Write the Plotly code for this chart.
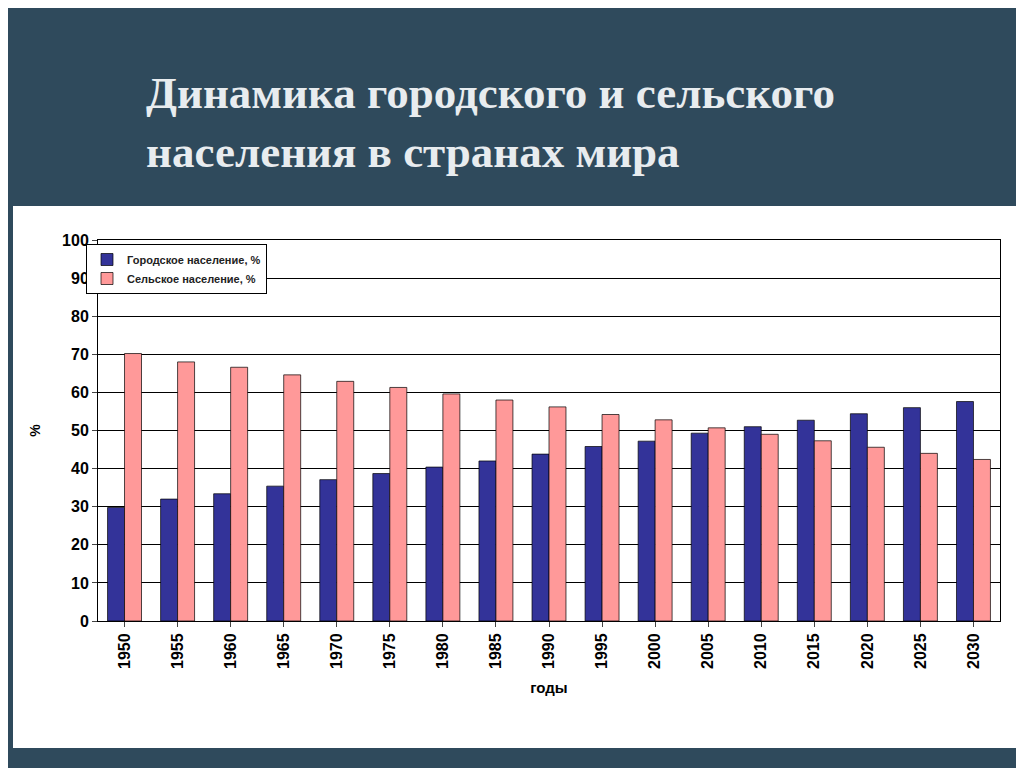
import plotly.graph_objects as go

years = ["1950","1955","1960","1965","1970","1975","1980","1985","1990","1995","2000","2005","2010","2015","2020","2025","2030"]
urban = [29.8,32.0,33.4,35.4,37.1,38.7,40.4,42.0,43.8,45.8,47.2,49.3,51.0,52.7,54.4,56.0,57.6]
rural = [70.2,68.0,66.6,64.6,62.9,61.3,59.6,58.0,56.2,54.2,52.8,50.7,49.0,47.3,45.6,44.0,42.4]

fig = go.Figure()
fig.add_bar(x=years, y=urban, name="Городское население, %", marker=dict(color="#333399", line=dict(color="#000", width=0.7)))
fig.add_bar(x=years, y=rural, name="Сельское население, %", marker=dict(color="#FF9999", line=dict(color="#000", width=0.7)))

L, R, T, B = 90, 32, 232, 155
pw, ph = 1024 - L - R, 768 - T - B
def px(x): return (x - L) / pw
def py(y): return (768 - B - y) / ph

fig.update_layout(
    width=1024, height=768,
    paper_bgcolor="#2f4a5c", plot_bgcolor="white",
    margin=dict(l=L, r=R, t=T, b=B, autoexpand=False),
    barmode="group", bargap=0.36, bargroupgap=0,
    showlegend=True,
    legend=dict(x=px(78), y=py(236), xanchor="left", yanchor="top", bgcolor="white",
                bordercolor="black", borderwidth=1, tracegroupgap=0,
                font=dict(family="Liberation Sans", size=11, color="#222", weight="bold")),
    font=dict(family="Liberation Sans", color="black"),
    shapes=[dict(type="rect", xref="paper", yref="paper", x0=px(5), x1=px(1010), y0=py(740), y1=py(198),
                 fillcolor="white", line=dict(width=0), layer="below")],
    annotations=[
        dict(text="<b>Динамика городского и сельского<br>населения в странах мира</b>", xref="paper", yref="paper",
             x=px(136), y=py(58), xanchor="left", yanchor="top", showarrow=False, align="left",
             font=dict(family="Liberation Serif", size=45, color="#e8ecef")),
    ],
)
fig.update_yaxes(range=[0, 100], dtick=10, showgrid=True, gridcolor="black", gridwidth=1,
                 showline=True, linecolor="black", mirror=True, ticks="outside",
                 tickfont=dict(size=16, family="Liberation Sans", weight="bold"),
                 title=dict(text="<b>%</b>", font=dict(size=14), standoff=18))
fig.update_xaxes(showline=True, linecolor="black", mirror=True, tickangle=-90, ticks="outside",
                 tickfont=dict(size=16, family="Liberation Sans", weight="bold"),
                 title=dict(text="<b>годы</b>", font=dict(size=15), standoff=14))
fig.write_html("out.html")
